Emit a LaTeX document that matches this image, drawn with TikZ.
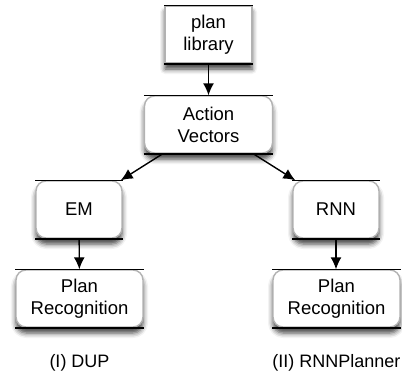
\documentclass[tikz,border=0pt]{standalone}
\usepackage{fontspec}
\setmainfont{Liberation Sans}
\usetikzlibrary{arrows.meta,shadows.blur}
\tikzset{
	box/.style={draw=black!30, fill=white, rounded corners=10pt, minimum height=57pt, inner sep=0pt, align=center,
		blur shadow={shadow xshift=0pt, shadow yshift=-6pt, shadow blur radius=5pt, shadow opacity=75}},
	rule/.style={line width=1.6pt},
	caption/.style={font=\fontsize{18}{21}\selectfont}
}
\begin{document}
\begin{tikzpicture}[x=1pt, y=-1pt, >={Latex[length=12pt,width=11pt]}, line width=1.4pt, font=\fontsize{18.5}{22}\selectfont]
		\useasboundingbox (0,0) rectangle (402,376);
		\node[box, sharp corners, minimum width=87pt] (lib) at (208.5,34.5) {plan\\library};
		\node[box, minimum width=128pt] (av) at (208.5,124.5) {Action\\Vectors};
		\node[box, minimum width=86pt] (em) at (79,209.5) {EM};
		\node[box, minimum width=86pt] (rnn) at (336,209.5) {RNN};
		\node[box, minimum width=127pt] (prl) at (79.5,298.5) {Plan\\Recognition};
		\node[box, minimum width=127pt] (prr) at (336.5,298.5) {Plan\\Recognition};
		
		\foreach \n in {lib,av,em,rnn,prl,prr}
		{
			\draw[rule] (\n.north west)--(\n.north east) (\n.south west)--(\n.south east);
		}
		
		\draw[->] (lib)--(av);
		\draw[->] ([xshift=19pt]av.south west)--([xshift=-2pt]em.north east);
		\draw[->] ([xshift=-20pt]av.south east)--([xshift=3pt]rnn.north west);
		\draw[->] (em)--(prl);
		\draw[->] (rnn)--(rnn|-prr.north);
		
		\node[caption] (capl) at (79.5,363) {(I) DUP};
		\node[caption] (capr) at (336.5,363) {(II) RNNPlanner};
\end{tikzpicture}
\end{document}
